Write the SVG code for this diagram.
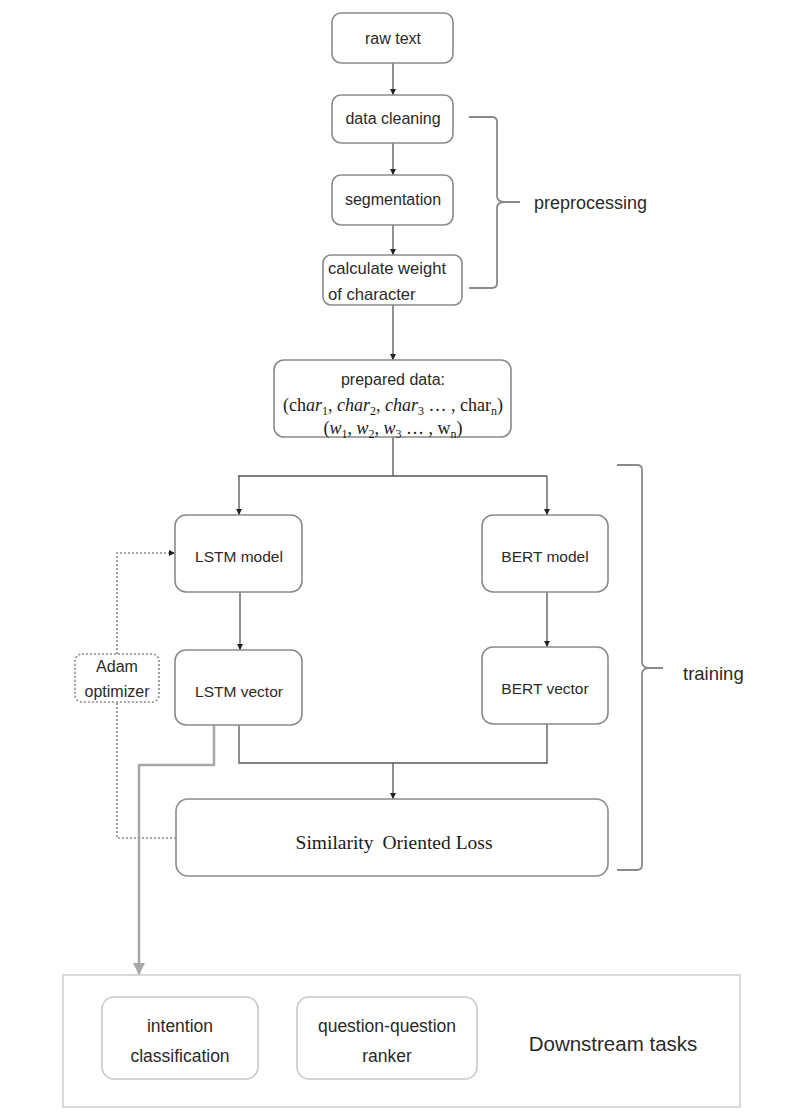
<svg xmlns="http://www.w3.org/2000/svg" width="789" height="1120" viewBox="0 0 789 1120">
<style>
.box{fill:#fff;stroke:#8a8a8a;stroke-width:1.6}
.t{font-family:"Liberation Sans",Arial,sans-serif;fill:#2a2a2a;text-anchor:middle}
.s{font-family:"Liberation Serif","Times New Roman",serif;fill:#1a1a1a;text-anchor:middle}
.ln{fill:none;stroke:#555;stroke-width:1.3}
.gl{fill:none;stroke:#a8a8a8;stroke-width:2.5}
.dt{fill:none;stroke:#8a8a8a;stroke-width:1.6;stroke-dasharray:2,2}
.br{fill:none;stroke:#8a8a8a;stroke-width:1.8}
</style>
<defs>
<marker id="ah" markerUnits="userSpaceOnUse" markerWidth="8" markerHeight="8" refX="6" refY="3" orient="auto"><path d="M0,0 L6,3 L0,6 z" fill="#222"/></marker>
<marker id="gah" markerUnits="userSpaceOnUse" markerWidth="14" markerHeight="14" refX="12" refY="6" orient="auto"><path d="M0,0 L12,6 L0,12 z" fill="#a8a8a8"/></marker>
</defs>
<rect width="789" height="1120" fill="#fff"/>

<g id="connectors">
<path class="ln" d="M393,63 V95" marker-end="url(#ah)"/>
<path class="ln" d="M393,143 V175" marker-end="url(#ah)"/>
<path class="ln" d="M393,225 V255" marker-end="url(#ah)"/>
<path class="ln" d="M393,305 V360" marker-end="url(#ah)"/>
<path class="ln" d="M393,437 V476 M238,476 H547"/>
<path class="ln" d="M239,476 V515" marker-end="url(#ah)"/>
<path class="ln" d="M547,476 V515" marker-end="url(#ah)"/>
<path class="ln" d="M240,592 V650" marker-end="url(#ah)"/>
<path class="ln" d="M547,592 V647" marker-end="url(#ah)"/>
<path class="ln" d="M239,725 V763 H547 V724"/>
<path class="ln" d="M393,763 V799" marker-end="url(#ah)"/>
<path class="gl" d="M214,725 V765 H139 V975" marker-end="url(#gah)"/>
<path class="dt" d="M176,838 H117 V702"/>
<path class="dt" d="M117,654 V553 H175" marker-end="url(#ah)"/>
</g>

<g id="brace-preprocessing">
<path class="br" d="M469,117 H492 Q497,117 497,122 V196 Q497,202 505,202 H520 M505,202 Q497,202 497,208 V283 Q497,288 492,288 H469"/>
<text class="t" x="534" y="209" font-size="18" style="text-anchor:start">preprocessing</text>
</g>

<g id="brace-training">
<path class="br" d="M617,465 H637 Q642,465 642,470 V662 Q642,668 650,668 H663 M650,668 Q642,668 642,674 V865 Q642,870 637,870 H617"/>
<text class="t" x="683" y="680" font-size="18.5" style="text-anchor:start">training</text>
</g>

<g id="raw-text"><rect class="box" x="332" y="13" width="121" height="50" rx="9"/><text class="t" x="393" y="44" font-size="16">raw text</text></g>
<g id="data-cleaning"><rect class="box" x="332" y="95" width="121" height="48" rx="9"/><text class="t" x="393" y="124" font-size="16">data cleaning</text></g>
<g id="segmentation"><rect class="box" x="332" y="175" width="121" height="50" rx="9"/><text class="t" x="393" y="205" font-size="16">segmentation</text></g>
<g id="calc-weight"><rect class="box" x="323" y="255" width="139" height="50" rx="8"/>
<text class="t" x="328" y="274" font-size="16.6" style="text-anchor:start">calculate weight</text>
<text class="t" x="328" y="300" font-size="16.6" style="text-anchor:start">of character</text></g>

<g id="prepared-data"><rect class="box" x="274" y="360" width="237" height="77" rx="10"/>
<text class="t" x="393" y="385" font-size="16">prepared data:</text>
<text class="s" x="393" y="411" font-size="18">(ch<tspan font-style="italic">ar</tspan><tspan font-size="12" dy="4">1</tspan><tspan dy="-4">, </tspan><tspan font-style="italic">char</tspan><tspan font-size="12" dy="4">2</tspan><tspan dy="-4">, </tspan><tspan font-style="italic">char</tspan><tspan font-size="12" dy="4">3</tspan><tspan dy="-4"> … , char</tspan><tspan font-size="12" dy="4">n</tspan><tspan dy="-4">)</tspan></text>
<text class="s" x="393" y="434" font-size="18">(<tspan font-style="italic">w</tspan><tspan font-size="12" dy="4">1</tspan><tspan dy="-4">, </tspan><tspan font-style="italic">w</tspan><tspan font-size="12" dy="4">2</tspan><tspan dy="-4">, </tspan><tspan font-style="italic">w</tspan><tspan font-size="12" dy="4">3</tspan><tspan dy="-4"> … , w</tspan><tspan font-size="12" dy="4">n</tspan><tspan dy="-4">)</tspan></text></g>

<g id="lstm-model"><rect class="box" x="175" y="515" width="127" height="77" rx="11"/><text class="t" x="239" y="562" font-size="15.5">LSTM model</text></g>
<g id="bert-model"><rect class="box" x="482" y="515" width="126" height="77" rx="11"/><text class="t" x="545" y="562" font-size="15.5">BERT model</text></g>
<g id="lstm-vector"><rect class="box" x="175" y="650" width="127" height="75" rx="11"/><text class="t" x="239" y="697" font-size="15.5">LSTM vector</text></g>
<g id="bert-vector"><rect class="box" x="482" y="647" width="126" height="77" rx="11"/><text class="t" x="545" y="694" font-size="15.5">BERT vector</text></g>

<g id="adam"><rect x="75" y="654" width="84" height="48" rx="7" fill="#fff" stroke="#8a8a8a" stroke-width="1.6" stroke-dasharray="2,2"/>
<text class="t" x="117" y="672" font-size="16">Adam</text><text class="t" x="117" y="697" font-size="16">optimizer</text></g>

<g id="similarity-loss"><rect class="box" x="176" y="799" width="432" height="77" rx="12"/>
<text class="s" x="394" y="849" font-size="19.5">Similarity<tspan dx="9">Oriented Loss</tspan></text></g>

<g id="downstream"><rect x="63" y="975" width="677" height="132" fill="#fff" stroke="#d0d0d0" stroke-width="1.6"/>
<text class="t" x="613" y="1051" font-size="20.5">Downstream tasks</text></g>
<g id="intention"><rect x="102" y="997" width="156" height="82" rx="12" fill="#fff" stroke="#c8c8c8" stroke-width="1.6"/>
<text class="t" x="180" y="1032" font-size="17.5">intention</text><text class="t" x="180" y="1062" font-size="17.5">classification</text></g>
<g id="qq-ranker"><rect x="297" y="997" width="180" height="82" rx="12" fill="#fff" stroke="#c8c8c8" stroke-width="1.6"/>
<text class="t" x="387" y="1032" font-size="17.5">question-question</text><text class="t" x="387" y="1062" font-size="17.5">ranker</text></g>
</svg>
